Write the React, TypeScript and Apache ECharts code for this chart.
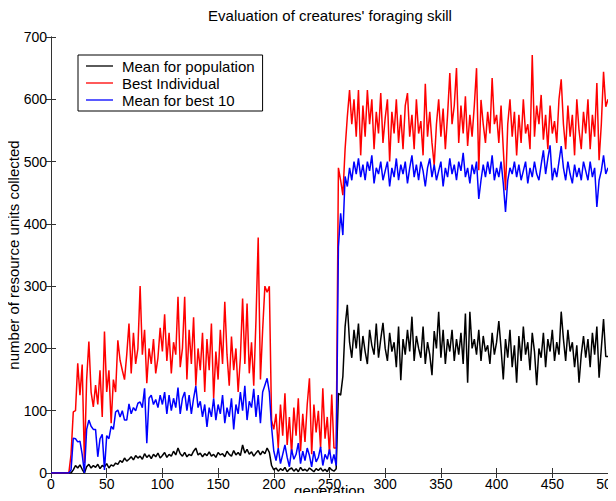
import React, { useEffect, useRef } from "react";
import * as echarts from "echarts";

const TITLE = "Evaluation of creatures' foraging skill";
const X_NAME = "generation";
const Y_NAME = "number of resource units collected";
const SERIES_NAMES = ["Mean for population", "Best Individual", "Mean for best 10"];
const X_TICKS = [0, 50, 100, 150, 200, 250, 300, 350, 400, 450, 500];
const Y_TICKS = [0, 100, 200, 300, 400, 500, 600, 700];

// values sampled every 2 generations, 0..500
const GEN_STEP = 2;

const meanPopulation = [
  0, 0, 0, 0, 0, 0, 0, 0, 0, 0,
  5, 12, 8, 13, 6, 0, 10, 14, 8, 12,
  9, 14, 7, 12, 10, 15, 8, 13, 11, 16,
  14, 20, 17, 24, 19, 22, 26, 21, 28, 24,
  27, 22, 31, 25, 29, 23, 30, 26, 32, 24,
  28, 33, 25, 30, 27, 35, 29, 40, 31, 27,
  33, 26, 30, 28, 35, 40, 29, 32, 26, 31,
  28, 34, 27, 30, 25, 33, 29, 31, 26, 35,
  30, 27, 36, 29, 33, 28, 45, 32, 38, 30,
  34, 27, 32, 36, 29, 35, 31, 40, 33, 12,
  5, 8, 3, 7, 4, 9, 2, 6, 8, 3,
  7, 2, 9, 4, 6, 3, 8, 5, 2, 7,
  4, 8, 3, 6, 2, 9, 5, 3, 7, 128,
  125, 155, 235, 270, 210, 185, 230, 200, 240, 180,
  220, 195, 175, 230, 205, 190, 240, 185, 215, 241,
  200, 180, 225, 195, 210, 170, 235, 149, 215, 190,
  230, 195, 251, 180, 220, 200, 185, 235, 175, 210,
  190, 157, 228, 200, 259, 185, 230, 175, 215, 195,
  230, 180, 215, 190, 225, 175, 256, 145, 259, 200,
  215, 190, 230, 180, 220, 195, 205, 175, 225, 190,
  210, 244, 200, 150, 215, 185, 230, 170, 205, 145,
  220, 180, 235, 190, 210, 165, 225, 195, 141, 200,
  185, 225, 170, 215, 195, 230, 180, 210, 190, 259,
  215, 180, 230, 195, 210, 170, 205, 145, 190, 220,
  185, 215, 170, 225, 190, 235, 153, 200, 247, 187,
  187,
];

const bestIndividual = [
  0, 0, 0, 0, 0, 0, 0, 0, 0, 30,
  98, 100, 176, 125, 174, 16, 150, 211, 130, 106,
  141, 110, 165, 90, 227, 130, 165, 80, 150, 130,
  213, 181, 165, 150, 190, 240, 160, 225, 175, 200,
  300, 190, 230, 144, 200, 175, 215, 160, 185, 233,
  195, 255, 180, 225, 160, 210, 190, 283, 170, 200,
  283, 150, 230, 175, 250, 140, 200, 165, 225, 130,
  215, 165, 240, 120, 195, 150, 230, 175, 275, 190,
  140, 219, 165, 200, 130, 185, 280, 175, 272, 160,
  210, 140, 245, 378, 150, 230, 300, 290, 300, 85,
  70, 95, 40, 110, 60, 128, 45, 90, 30, 105,
  60, 120, 35, 95, 50, 110, 152, 30, 110, 65,
  100, 40, 136, 55, 90, 30, 126, 40, 40, 490,
  470, 446, 520, 572, 615, 560, 600, 540, 615, 510,
  590, 540, 615, 560, 600, 520, 580, 545, 610, 530,
  570, 600, 500, 580, 545, 600, 530, 575, 520, 590,
  610, 540, 575, 520, 600, 545, 565, 510, 625, 540,
  580, 530, 494, 560, 600, 540, 585, 520, 575, 642,
  560, 590, 650, 530, 590, 545, 605, 525, 575, 540,
  590, 650, 486, 599, 560, 530, 580, 545, 634, 560,
  575, 530, 590, 520, 454, 560, 600, 540, 580, 510,
  575, 530, 600, 545, 560, 520, 671, 540, 590, 560,
  607, 535, 575, 520, 590, 545, 565, 530, 600, 632,
  560, 520, 590, 540, 575, 510, 600, 550, 520, 580,
  545, 600, 520, 575, 540, 626, 502, 560, 644, 588,
  600,
];

const meanBest10 = [
  0, 0, 0, 0, 0, 0, 0, 0, 0, 5,
  56, 55, 50, 51, 30, 0, 70, 85, 75, 70,
  70, 26, 55, 62, 5, 60, 55, 75, 70, 98,
  101, 90, 100, 85, 85, 111, 95, 105, 100, 112,
  114, 105, 136, 48, 120, 125, 110, 118, 105, 125,
  110, 130, 95, 125, 100, 120, 105, 137, 95, 120,
  130, 100, 125, 95, 120, 140, 105, 115, 90, 110,
  74, 105, 90, 120, 85, 110, 95, 125, 80, 105,
  90, 120, 70, 110, 95, 130, 100, 140, 85, 115,
  105, 135, 90, 125, 80, 130, 141, 152, 130, 74,
  35, 20, 40, 15, 30, 45, 25, 10, 38, 22,
  30, 48, 15, 35, 20, 40, 28, 10, 35, 18,
  25, 42, 12, 30, 22, 38, 15, 30, 12, 363,
  417, 382, 476, 460, 490, 470, 500, 480, 505, 475,
  495, 470, 500, 485, 510, 465, 490, 480, 500, 470,
  485, 500, 460, 490, 475, 505, 470, 495, 480, 500,
  465, 490, 510, 475, 495, 470, 500, 485, 460, 490,
  505, 475, 495, 470, 485, 500, 460, 490, 475, 505,
  480, 495, 470, 500, 485, 514, 475, 490, 465, 495,
  480, 500, 440, 470, 495, 475, 500, 480, 510, 470,
  490, 475, 500, 465, 419, 470, 490, 480, 500, 475,
  495, 470, 485, 500, 465, 490, 475, 500, 480, 470,
  495, 518, 480, 505, 526, 470, 490, 475, 500, 525,
  490, 470, 500, 480, 465, 495, 475, 490, 470, 500,
  485, 470, 500, 475, 490, 427, 470, 485, 510, 480,
  490,
];

const COLORS = ["#000000", "#ff0000", "#0000ff"];
const FONT = "Liberation Sans, Arial, Helvetica, sans-serif";

function toPairs(values: number[]) {
  return values.map((v, i) => [i * GEN_STEP, v]);
}

export default function App() {
  const ref = useRef<HTMLDivElement>(null);
  useEffect(() => {
    if (!ref.current) return;
    const chart = echarts.init(ref.current, null, { renderer: "svg" });
    const axisColor = "#333";
    const xBase = {
      type: "value" as const,
      min: X_TICKS[0],
      max: X_TICKS[X_TICKS.length - 1],
      interval: 50,
      splitLine: { show: false },
      axisLine: { show: true, lineStyle: { color: axisColor, width: 1 } },
      axisTick: { show: true, inside: true, length: 5, lineStyle: { color: axisColor } },
    };
    const yBase = {
      type: "value" as const,
      min: Y_TICKS[0],
      max: Y_TICKS[Y_TICKS.length - 1],
      interval: 100,
      splitLine: { show: false },
      axisLine: { show: true, lineStyle: { color: axisColor, width: 1 } },
      axisTick: { show: true, inside: true, length: 5, lineStyle: { color: axisColor } },
    };
    const all = [meanPopulation, bestIndividual, meanBest10];
    chart.setOption({
      animation: false,
      backgroundColor: "#ffffff",
      textStyle: { fontFamily: FONT },
      title: {
        text: TITLE,
        left: 330,
        top: 8,
        padding: 0,
        textAlign: "center",
        textStyle: { fontSize: 15, fontWeight: "normal", color: "#000", fontFamily: FONT },
      },
      legend: {
        data: SERIES_NAMES,
        orient: "vertical",
        left: 78,
        top: 55,
        padding: [3, 8, 3, 8],
        icon: "rect",
        itemWidth: 27,
        itemHeight: 1.3,
        itemGap: 1,
        borderColor: "#000",
        borderWidth: 1,
        backgroundColor: "#fff",
        textStyle: { fontSize: 15, color: "#000", fontFamily: FONT, padding: [0, 0, 0, 4], lineHeight: 16 },
      },
      grid: { left: 51, right: 8, top: 37, bottom: 28, containLabel: false, outerBoundsMode: "none" },
      xAxis: [
        {
          ...xBase,
          position: "bottom",
          name: X_NAME,
          nameLocation: "middle",
          nameGap: 10,
          nameMoveOverlap: false,
          nameTextStyle: { fontSize: 15, color: "#000", fontFamily: FONT },
          axisLabel: { fontSize: 14, color: "#000", margin: 4, fontFamily: FONT },
        },
        { ...xBase, position: "top", axisLabel: { show: false } },
      ],
      yAxis: [
        {
          ...yBase,
          position: "left",
          name: Y_NAME,
          nameLocation: "middle",
          nameGap: 30,
          nameMoveOverlap: false,
          nameTextStyle: { fontSize: 15, color: "#000", fontFamily: FONT },
          axisLabel: { fontSize: 14, color: "#000", margin: 4, fontFamily: FONT },
        },
        { ...yBase, position: "right", axisLabel: { show: false } },
      ],
      series: all.map((vals, i) => ({
        name: SERIES_NAMES[i],
        type: "line",
        xAxisIndex: 0,
        yAxisIndex: 0,
        data: toPairs(vals),
        symbol: "none",
        lineStyle: { color: COLORS[i], width: 1.5 },
        itemStyle: { color: COLORS[i] },
        z: 2 + i,
      })),
    });
    return () => chart.dispose();
  }, []);
  return <div ref={ref} style={{ width: 616, height: 501, margin: -8 }} />;
}
